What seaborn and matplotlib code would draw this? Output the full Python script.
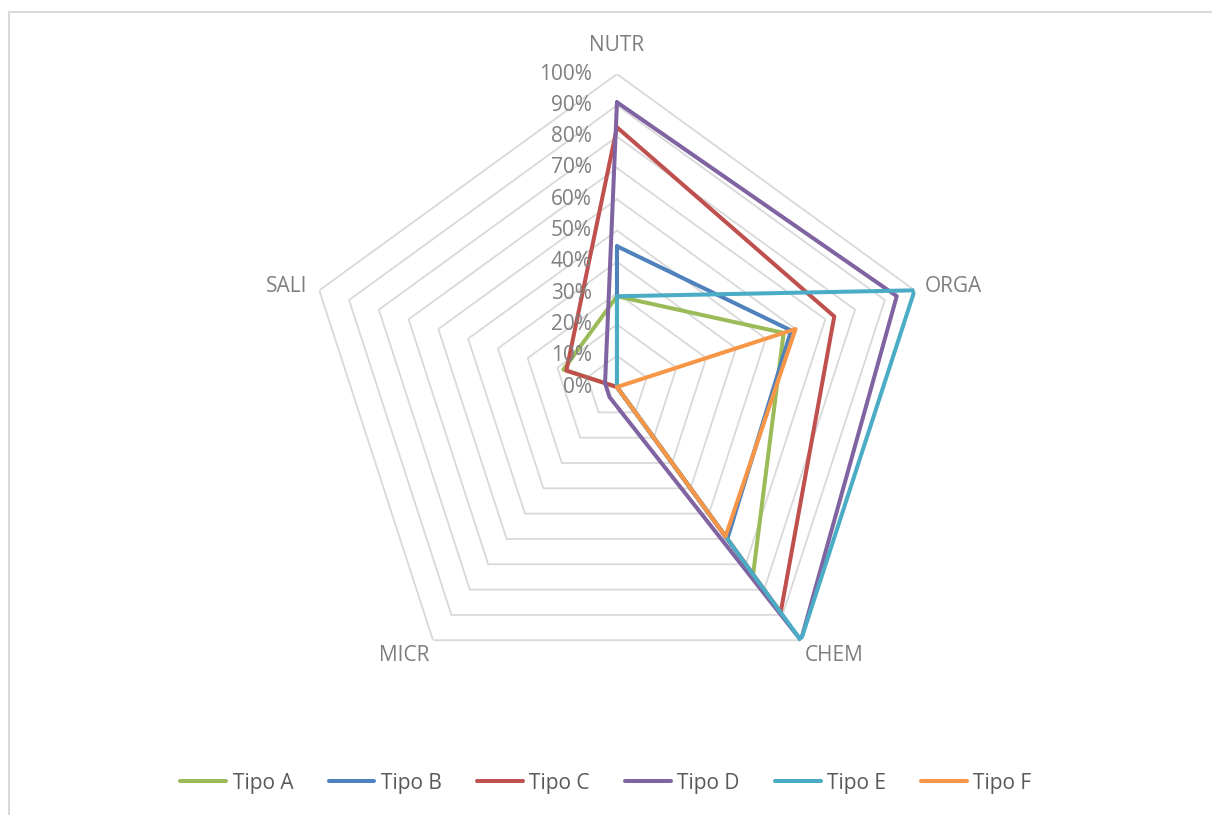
import numpy as np
import pandas as pd
import seaborn as sns
import matplotlib.pyplot as plt
from matplotlib.patches import Rectangle

# categories and values (fraction of 1)
categories = ["NUTR", "ORGA", "CHEM", "MICR", "SALI"]
tipo_a = [0.29, 0.56, 0.74, 0.00, 0.18]
tipo_b = [0.45, 0.585, 0.60, 0.00, 0.00]
tipo_c = [0.83, 0.73, 0.89, 0.00, 0.17]
tipo_d = [0.91, 0.94, 1.00, 0.04, 0.04]
tipo_e = [0.29, 1.00, 1.00, 0.00, 0.00]
tipo_f = [0.00, 0.60, 0.59, 0.00, 0.00]
series_names = ["Tipo A", "Tipo B", "Tipo C", "Tipo D", "Tipo E", "Tipo F"]
tick_values = [0.0, 0.1, 0.2, 0.3, 0.4, 0.5, 0.6, 0.7, 0.8, 0.9, 1.0]
tick_labels = ["0%", "10%", "20%", "30%", "40%", "50%", "60%", "70%", "80%", "90%", "100%"]

colors = ["#9BBB59", "#4F81BD", "#C0504D", "#8064A2", "#4BACC6", "#F79646"]

sns.set_style("white")
plt.rcParams['font.family'] = ['Open Sans', 'DejaVu Sans']

n = len(categories)
theta = np.linspace(0, 2 * np.pi, n, endpoint=False)
theta_closed = np.append(theta, 2 * np.pi)

# long table for seaborn, each polygon closed
rows = []
for name, vals in zip(series_names, [tipo_a, tipo_b, tipo_c, tipo_d, tipo_e, tipo_f]):
    closed = list(vals) + [vals[0]]
    for i, (t, v) in enumerate(zip(theta_closed, closed)):
        rows.append({"tipo": name, "theta": t, "value": v, "order": i})
df = pd.DataFrame(rows)

fig = plt.figure(figsize=(12.12, 8.15), dpi=100)
ax = fig.add_axes([0.2508, 0.1411, 0.5165, 0.768], projection="polar")
ax.set_theta_offset(np.pi / 2)
ax.set_theta_direction(-1)
ax.set_ylim(0, 1)
ax.grid(False)
ax.spines["polar"].set_visible(False)
ax.set_xticks([])
ax.set_yticks([])
ax.patch.set_alpha(0)

# pentagon gridlines
for r in tick_values[1:]:
    ax.plot(theta_closed, [r] * len(theta_closed), color="#D9D9D9", lw=1.3, zorder=1)

sns.lineplot(data=df, x="theta", y="value", hue="tipo", palette=colors,
             sort=False, estimator=None, units="tipo", linewidth=2.9, ax=ax, legend=False, zorder=3)
ax.set_xlabel("")
ax.set_ylabel("")

# radial tick labels along NUTR axis
for r, lab in zip(tick_values, tick_labels):
    ax.annotate(lab, xy=(0, r), xytext=(-18, 0), textcoords="offset points",
                ha="right", va="center", fontsize=15, color="#7F7F7F")

# category labels
label_pos = {
    "NUTR": (1.09, "center", "center"),
    "ORGA": (1.035, "left", "center"),
    "CHEM": (1.02, "left", "top"),
    "MICR": (1.02, "right", "top"),
    "SALI": (1.04, "right", "center"),
}
for t, cat in zip(theta, categories):
    r, ha, va = label_pos[cat]
    ax.text(t, r, cat, ha=ha, va=va, fontsize=15, color="#7F7F7F")

handles = [plt.Line2D([], [], color=c, lw=2.9) for c in colors]
fig.legend(handles, series_names, loc="center", bbox_to_anchor=(0.5, 1 - 783 / 815),
           ncol=6, frameon=False, fontsize=15, handlelength=2.2, columnspacing=1.7,
           handletextpad=0.3, labelcolor="#595959")

fig.add_artist(Rectangle((9 / 1212, -0.5), 2.0, 1.5 - 12 / 815, transform=fig.transFigure,
                         fill=False, edgecolor="#D9D9D9", lw=1.5))

fig.savefig("out.png", dpi=100)
